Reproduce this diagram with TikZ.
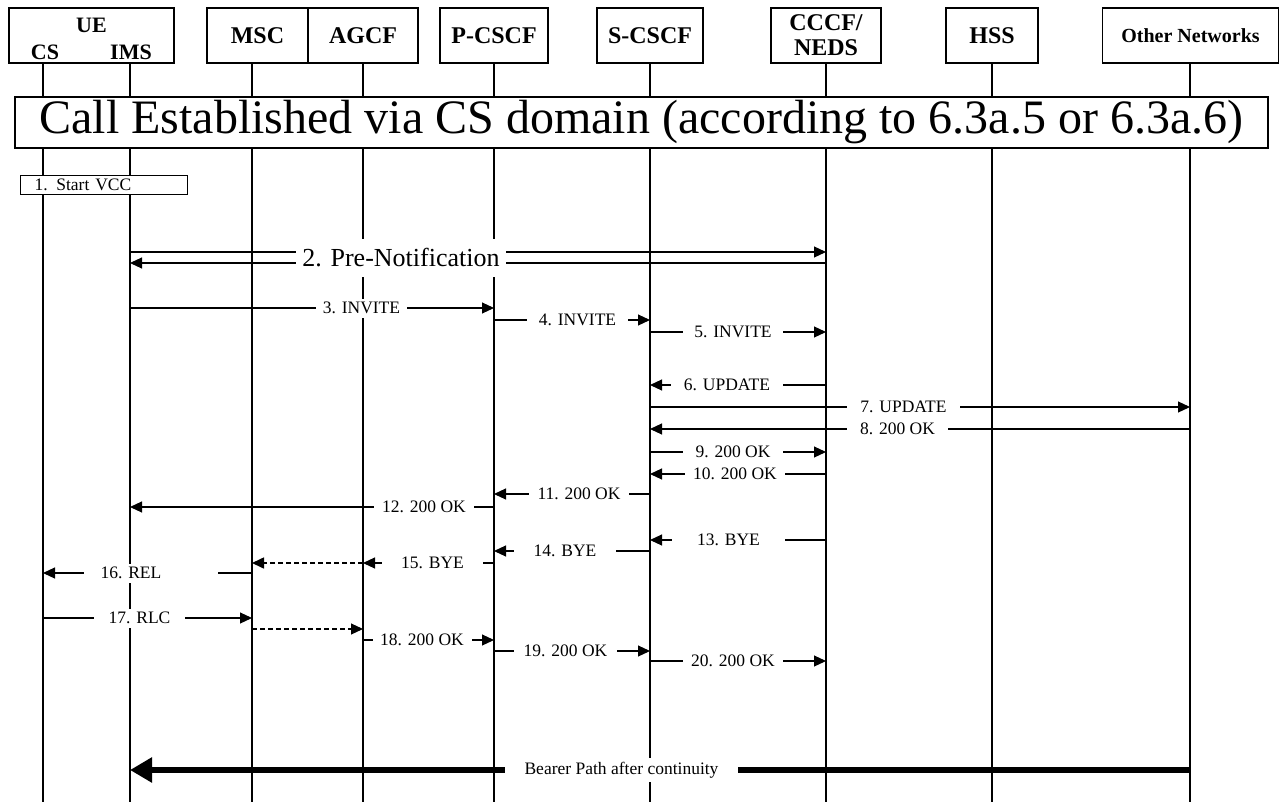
\documentclass[tikz,border=0pt]{standalone}
\usepackage{fontspec}
\setmainfont{Liberation Serif}
\usetikzlibrary{arrows.meta}
\begin{document}
\begin{tikzpicture}[x=1pt,y=-1pt,
  hdr/.style={draw, line width=1.2pt, minimum height=55pt, inner sep=0pt, font=\bfseries\fontsize{24}{25}\selectfont},
  htxt/.style={inner sep=0pt, font=\bfseries\fontsize{22}{24}\selectfont},
  life/.style={line width=1.1pt},
  msg/.style={line width=1.1pt, -{Triangle[length=12pt,width=11pt]}},
  dmsg/.style={msg, dash pattern=on 5pt off 3pt},
  lbl/.style={fill=white, inner sep=0pt, minimum height=19pt, minimum width=#1, font=\fontsize{17.5}{20}\selectfont},
  lbl/.default=80pt]
\useasboundingbox (0,0) rectangle (1281,802);
% header
\node[hdr, minimum width=165pt] (ue) at (91.5,35.5) {};
\node[htxt] (uet) at (91.5,25) {UE};
\node[htxt] (cst) at (45,52) {CS};
\node[htxt] (imst) at (131,52) {IMS};
\node[hdr, minimum width=101pt] (msc) at (257.5,35.5) {MSC};
\node[hdr, minimum width=110pt] (agcf) at (363,35.5) {AGCF};
\node[hdr, minimum width=108pt] (pcscf) at (494,35.5) {P-CSCF};
\node[hdr, minimum width=106pt] (scscf) at (650,35.5) {S-CSCF};
\node[hdr, minimum width=110pt, align=center] (cccf) at (826,35.5) {CCCF/\\NEDS};
\node[hdr, minimum width=92pt] (hss) at (992,35.5) {HSS};
\node[hdr, minimum width=176pt, font=\bfseries\fontsize{20}{22}\selectfont] (oth) at (1190.5,35.5) {Other Networks};
% lifeline tops
\coordinate (CS) at (43,63);
\coordinate (IMS) at (130,63);
\coordinate (MSC) at (252,63);
\coordinate (AGCF) at (363,63);
\coordinate (PC) at (494,63);
\coordinate (SC) at (650,63);
\coordinate (CC) at (826,63);
\coordinate (HS) at (992,63);
\coordinate (OT) at (1190,63);
\coordinate (bot) at (0,802);
\foreach \l in {CS,IMS,MSC,AGCF,PC,SC,CC,HS,OT} {\draw[life] (\l) -- (\l |- bot);}
% big box
\node[draw, fill=white, line width=1.2pt, minimum width=1253pt, minimum height=51pt, inner sep=0pt, font=\fontsize{48}{50}\selectfont] (est) at (641.5,122.5) {Call Established via CS domain (according to 6.3a.5 or 6.3a.6)};
% start VCC
\node[draw, fill=white, line width=1pt, anchor=north west, minimum height=19pt, text width=139pt, inner xsep=14pt, inner ysep=0pt, align=left, font=\fontsize{17.5}{20}\selectfont] (vcc) at (20,175) {1. Start VCC};
% message rows
\coordinate (m2a) at (0,252);
\coordinate (m2b) at (0,263);
\coordinate (m3) at (0,308);
\coordinate (m4) at (0,320);
\coordinate (m5) at (0,332);
\coordinate (m6) at (0,385);
\coordinate (m7) at (0,407);
\coordinate (m8) at (0,429);
\coordinate (m9) at (0,452);
\coordinate (m10) at (0,474);
\coordinate (m11) at (0,494);
\coordinate (m12) at (0,507);
\coordinate (m13) at (0,540);
\coordinate (m14) at (0,551);
\coordinate (m15) at (0,563);
\coordinate (m16) at (0,573);
\coordinate (m17) at (0,618);
\coordinate (m17b) at (0,629);
\coordinate (m18) at (0,640);
\coordinate (m19) at (0,651);
\coordinate (m20) at (0,661);
\coordinate (mb) at (0,770);
% 2
\draw[msg] (IMS |- m2a) -- (CC |- m2a);
\draw[msg] (CC |- m2b) -- (IMS |- m2b);
\node[fill=white, inner sep=0pt, minimum width=210pt, minimum height=38pt, font=\fontsize{26}{28}\selectfont] (l2) at (401,258) {2. Pre-Notification};
% 3-5
\draw[msg] (IMS |- m3) -- (PC |- m3);
\node[lbl=91pt] (l3) at (361.5,308) {3. INVITE};
\draw[msg] (PC |- m4) -- (SC |- m4);
\node[lbl=101pt] (l4) at (577.5,320) {4. INVITE};
\draw[msg] (SC |- m5) -- (CC |- m5);
\node[lbl=100pt] (l5) at (733,332) {5. INVITE};
% 6-10
\draw[msg] (CC |- m6) -- (SC |- m6);
\node[lbl=112pt] (l6) at (727,385) {6. UPDATE};
\draw[msg] (SC |- m7) -- (OT |- m7);
\node[lbl=113pt] (l7) at (903.5,407) {7. UPDATE};
\draw[msg] (OT |- m8) -- (SC |- m8);
\node[lbl=101pt] (l8) at (897.5,429) {8. 200 OK};
\draw[msg] (SC |- m9) -- (CC |- m9);
\node[lbl=100pt] (l9) at (733,452) {9. 200 OK};
\draw[msg] (CC |- m10) -- (SC |- m10);
\node[lbl=100pt] (l10) at (735,474) {10. 200 OK};
% 11-12
\draw[msg] (SC |- m11) -- (PC |- m11);
\node[lbl=100pt] (l11) at (579,494) {11. 200 OK};
\draw[msg] (PC |- m12) -- (IMS |- m12);
\node[lbl=100pt] (l12) at (424,507) {12. 200 OK};
% 13-16
\draw[msg] (CC |- m13) -- (SC |- m13);
\node[lbl=113pt] (l13) at (728.5,540) {13. BYE};
\draw[msg] (SC |- m14) -- (PC |- m14);
\node[lbl=102pt] (l14) at (565,551) {14. BYE};
\draw[msg] (PC |- m15) -- (AGCF |- m15);
\node[lbl=101pt] (l15) at (432.5,563) {15. BYE};
\draw[dmsg, line width=1.6pt] (AGCF |- m15) -- (MSC |- m15);
\draw[msg] (MSC |- m16) -- (CS |- m16);
\node[lbl=134pt] (l16) at (151,573) {16. REL\hspace*{40pt}};
% 17-20
\draw[msg] (CS |- m17) -- (MSC |- m17);
\node[lbl=91pt] (l17) at (139.5,618) {17. RLC};
\draw[dmsg] (MSC |- m17b) -- (AGCF |- m17b);
\draw[msg] (AGCF |- m18) -- (PC |- m18);
\node[lbl=99pt] (l18) at (422,640) {18. 200 OK};
\draw[msg] (PC |- m19) -- (SC |- m19);
\node[lbl=103pt] (l19) at (565.5,651) {19. 200 OK};
\draw[msg] (SC |- m20) -- (CC |- m20);
\node[lbl=100pt] (l20) at (733,661) {20. 200 OK};
% bearer
\draw[line width=6pt, -{Triangle[length=22pt,width=24pt]}] (OT |- mb) -- (IMS |- mb);
\node[lbl=233pt, minimum height=24pt] (lb) at (621.5,770) {Bearer Path after continuity};
\end{tikzpicture}
\end{document}
